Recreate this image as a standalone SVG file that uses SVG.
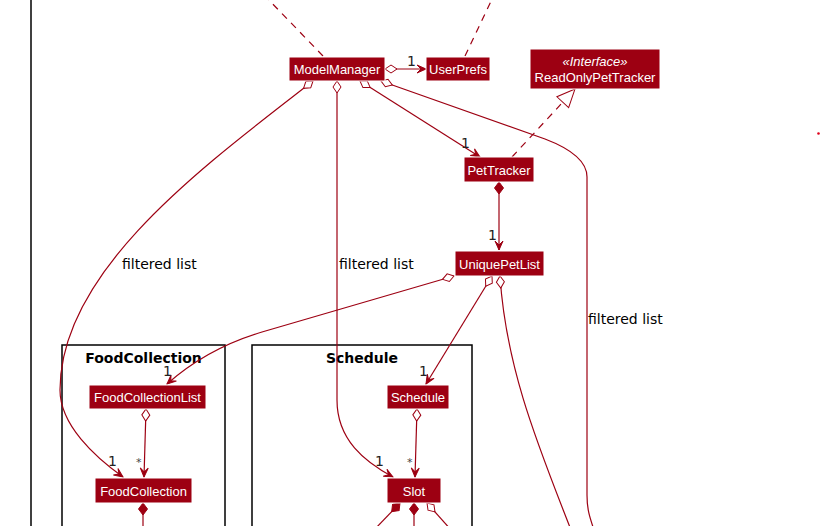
<svg xmlns="http://www.w3.org/2000/svg" width="821" height="526" viewBox="0 0 821 526">
<style>
.box{fill:#9D0012;stroke:#FFFFFF;stroke-width:1}
.bt{font-family:"Liberation Sans",Arial,sans-serif;font-size:13px;fill:#FFFFFF;text-anchor:middle}
.it{font-style:italic}
.pkg{fill:none;stroke:#000000;stroke-width:1.5}
.pt{font-family:"DejaVu Sans",sans-serif;font-size:14px;font-weight:bold;fill:#000000;text-anchor:middle}
.lbl{font-family:"DejaVu Sans",sans-serif;font-size:14px;fill:#000000}
.ml{font-family:"DejaVu Sans",sans-serif;font-size:14px;fill:#222222}
.st{font-family:"DejaVu Sans",sans-serif;font-size:11px;fill:#444444}
.ln{fill:none;stroke:#9D0012;stroke-width:1.2}
.dash{stroke-dasharray:7,6}
</style>
<defs>
<marker id="arr" viewBox="-10 -5 11 10" refX="0" refY="0" markerWidth="11" markerHeight="10" markerUnits="userSpaceOnUse" orient="auto">
<path d="M0,0 L-9,-4 L-5,0 L-9,4 Z" fill="#9D0012" stroke="#9D0012" stroke-width="1"/>
</marker>
<marker id="hd" viewBox="-1 -5 14 10" refX="0" refY="0" markerWidth="14" markerHeight="10" markerUnits="userSpaceOnUse" orient="auto">
<path d="M0,0 L6,-4 L12,0 L6,4 Z" fill="#FFFFFF" stroke="#9D0012" stroke-width="1"/>
</marker>
<marker id="fd" viewBox="-1 -5 14 10" refX="0" refY="0" markerWidth="14" markerHeight="10" markerUnits="userSpaceOnUse" orient="auto">
<path d="M0,0 L6,-4.5 L12,0 L6,4.5 Z" fill="#9D0012" stroke="#9D0012" stroke-width="1"/>
</marker>
<marker id="tri" viewBox="-20 -10 21 20" refX="0" refY="0" markerWidth="21" markerHeight="20" markerUnits="userSpaceOnUse" orient="auto">
<path d="M0,0 L-18,-8 L-18,8 Z" fill="#FFFFFF" stroke="#9D0012" stroke-width="1"/>
</marker>
</defs>
<rect x="0" y="0" width="821" height="526" fill="#FFFFFF"/>
<line x1="31" y1="-2" x2="31" y2="528" stroke="#000000" stroke-width="1.5"/>
<g id="pkg-foodcollection">
<rect class="pkg" x="62" y="345" width="163" height="200"/>
<text class="pt" x="143.5" y="363">FoodCollection</text>
</g>
<g id="pkg-schedule">
<rect class="pkg" x="252" y="345" width="220" height="200"/>
<text class="pt" x="362" y="363">Schedule</text>
</g>
<g id="connectors">
<path class="ln dash" d="M323,56 L266,-3"/>
<path class="ln dash" d="M465,56 L493,-3"/>
<path class="ln" d="M385,69 L426,69" marker-start="url(#hd)" marker-end="url(#arr)"/>
<path class="ln" d="M360,81 L480,157" marker-start="url(#hd)" marker-end="url(#arr)"/>
<path class="ln" d="M381,81 L545,139 Q587,155 587,177 L587,495 C587,510 590,518 594,530" marker-start="url(#hd)"/>
<path class="ln" d="M313,81 C205,165 60,270 60,390 C60,425 95,457 123,477" marker-start="url(#hd)" marker-end="url(#arr)"/>
<path class="ln" d="M337,81 L337,400 C337,440 365,462 393,477" marker-start="url(#hd)" marker-end="url(#arr)"/>
<path class="ln dash" d="M512,157 L575,89" marker-end="url(#tri)"/>
<path class="ln" d="M499,182 L499,250" marker-start="url(#fd)" marker-end="url(#arr)"/>
<path class="ln" d="M454,276 L262,332 C215,346 185,368 167,384" marker-start="url(#hd)" marker-end="url(#arr)"/>
<path class="ln" d="M492,276 L426,384" marker-start="url(#hd)" marker-end="url(#arr)"/>
<path class="ln" d="M500,276 C506,370 540,450 571,530" marker-start="url(#hd)"/>
<path class="ln" d="M146,409 L144,477" marker-start="url(#hd)" marker-end="url(#arr)"/>
<path class="ln" d="M417,409 L415,477" marker-start="url(#hd)" marker-end="url(#arr)"/>
<path class="ln" d="M143,503 L143,530" marker-start="url(#fd)"/>
<path class="ln" d="M400,503 L374,530" marker-start="url(#fd)"/>
<path class="ln" d="M414,503 L414,530" marker-start="url(#fd)"/>
<path class="ln" d="M427,503 L452,531" marker-start="url(#hd)"/>
<text class="lbl" x="122" y="269">filtered list</text>
<text class="lbl" x="339" y="269">filtered list</text>
<text class="lbl" x="588" y="324">filtered list</text>
<text class="ml" x="407" y="66">1</text>
<text class="ml" x="461" y="148">1</text>
<text class="ml" x="488" y="240">1</text>
<text class="ml" x="163" y="376">1</text>
<text class="ml" x="419" y="376">1</text>
<text class="ml" x="108" y="466">1</text>
<text class="ml" x="375" y="466">1</text>
<text class="st" x="136" y="466">*</text>
<text class="st" x="407" y="466">*</text>
</g>
<g id="ModelManager">
<rect class="box" x="289" y="57" width="96" height="24"/>
<text class="bt" x="337" y="74">ModelManager</text>
</g>
<g id="UserPrefs">
<rect class="box" x="426" y="57" width="64" height="24"/>
<text class="bt" x="458" y="74">UserPrefs</text>
</g>
<g id="ReadOnlyPetTracker">
<rect class="box" x="530" y="49" width="130" height="40"/>
<text class="bt it" x="595" y="66">«Interface»</text>
<text class="bt" x="595" y="82">ReadOnlyPetTracker</text>
</g>
<g id="PetTracker">
<rect class="box" x="464" y="157" width="70" height="25"/>
<text class="bt" x="499" y="175">PetTracker</text>
</g>
<g id="UniquePetList">
<rect class="box" x="455" y="251" width="89" height="25"/>
<text class="bt" x="499.5" y="269">UniquePetList</text>
</g>
<g id="FoodCollectionList">
<rect class="box" x="89" y="385" width="117" height="24"/>
<text class="bt" x="147.5" y="402">FoodCollectionList</text>
</g>
<g id="FoodCollection">
<rect class="box" x="95" y="478" width="97" height="25"/>
<text class="bt" x="143.5" y="496">FoodCollection</text>
</g>
<g id="Schedule">
<rect class="box" x="387" y="385" width="62" height="24"/>
<text class="bt" x="418" y="402">Schedule</text>
</g>
<g id="Slot">
<rect class="box" x="387" y="478" width="54" height="25"/>
<text class="bt" x="414" y="496">Slot</text>
</g>
<circle cx="818.5" cy="133.5" r="1.3" fill="#E0001B"/>
</svg>
